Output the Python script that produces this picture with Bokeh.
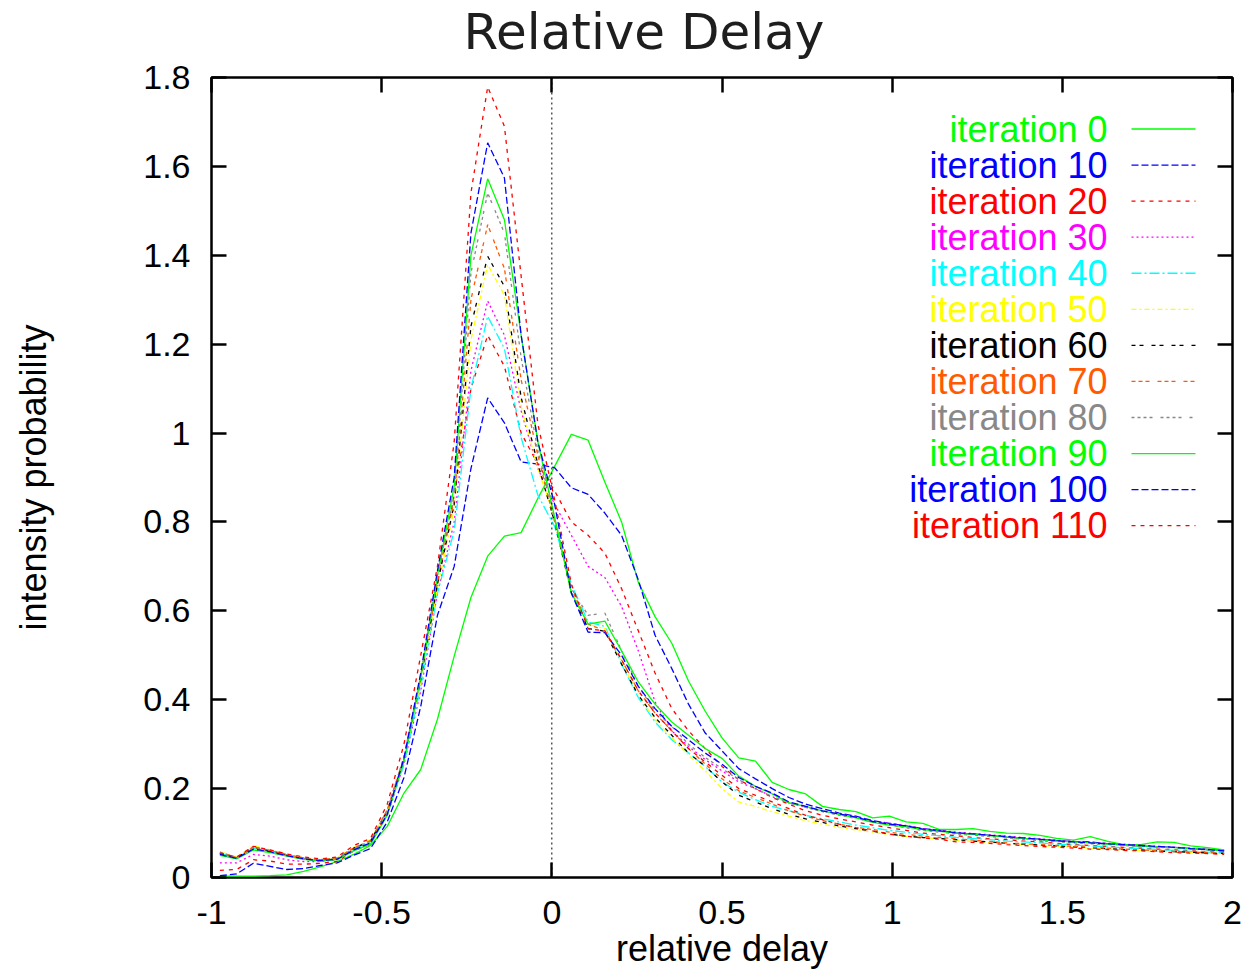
from bokeh.plotting import figure
from bokeh.models import Range1d, FixedTicker, LinearAxis, Span, Title
from bokeh.embed import file_html
from bokeh.resources import INLINE
from bokeh.core.properties import value

# ---------------- data ----------------
relative_delay = [
    -0.9754, -0.9262, -0.8770, -0.8279, -0.7787, -0.7295, -0.6803, -0.6311, -0.5820, -0.5328,
    -0.4836, -0.4344, -0.3852, -0.3361, -0.2869, -0.2377, -0.1885, -0.1393, -0.0902, -0.0410,
    0.0082, 0.0574, 0.1066, 0.1557, 0.2049, 0.2541, 0.3033, 0.3525, 0.4016, 0.4508,
    0.5000, 0.5492, 0.5984, 0.6475, 0.6967, 0.7459, 0.7951, 0.8443, 0.8934, 0.9426,
    0.9918, 1.0410, 1.0902, 1.1393, 1.1885, 1.2377, 1.2869, 1.3361, 1.3852, 1.4344,
    1.4836, 1.5328, 1.5820, 1.6311, 1.6803, 1.7295, 1.7787, 1.8279, 1.8770, 1.9262, 1.9754]

iter_0 = [
    0.003, 0.003, 0.003, 0.004, 0.006, 0.014, 0.024, 0.036, 0.052, 0.072,
    0.115, 0.190, 0.243, 0.356, 0.498, 0.630, 0.723, 0.768, 0.776, 0.853,
    0.925, 0.997, 0.984, 0.890, 0.800, 0.664, 0.587, 0.527, 0.442, 0.374,
    0.314, 0.269, 0.262, 0.214, 0.198, 0.188, 0.160, 0.153, 0.148, 0.134,
    0.138, 0.125, 0.122, 0.108, 0.108, 0.110, 0.104, 0.100, 0.099, 0.095,
    0.088, 0.084, 0.092, 0.082, 0.074, 0.074, 0.080, 0.079, 0.071, 0.067, 0.062]
iter_10 = [
    0.004, 0.008, 0.032, 0.025, 0.018, 0.020, 0.027, 0.033, 0.050, 0.065,
    0.125, 0.225, 0.385, 0.590, 0.700, 0.920, 1.079, 1.023, 0.935, 0.930,
    0.922, 0.877, 0.862, 0.820, 0.770, 0.670, 0.545, 0.470, 0.390, 0.325,
    0.285, 0.245, 0.222, 0.200, 0.180, 0.165, 0.155, 0.145, 0.138, 0.128,
    0.122, 0.116, 0.110, 0.106, 0.100, 0.098, 0.095, 0.091, 0.088, 0.086,
    0.083, 0.081, 0.080, 0.076, 0.073, 0.071, 0.069, 0.068, 0.065, 0.063, 0.060]
iter_20 = [
    0.016, 0.018, 0.040, 0.037, 0.030, 0.030, 0.032, 0.036, 0.060, 0.075,
    0.150, 0.270, 0.450, 0.660, 0.860, 1.100, 1.220, 1.150, 1.000, 0.930,
    0.870, 0.800, 0.770, 0.730, 0.650, 0.555, 0.460, 0.380, 0.330, 0.290,
    0.250, 0.220, 0.200, 0.180, 0.165, 0.150, 0.140, 0.132, 0.125, 0.118,
    0.112, 0.106, 0.100, 0.097, 0.094, 0.090, 0.087, 0.085, 0.082, 0.080,
    0.077, 0.074, 0.072, 0.070, 0.068, 0.066, 0.064, 0.062, 0.060, 0.058, 0.056]
iter_30 = [
    0.033, 0.033, 0.052, 0.048, 0.040, 0.036, 0.036, 0.040, 0.062, 0.078,
    0.140, 0.255, 0.420, 0.640, 0.800, 1.140, 1.297, 1.220, 1.050, 0.920,
    0.840, 0.770, 0.700, 0.675, 0.610, 0.510, 0.395, 0.330, 0.295, 0.265,
    0.240, 0.215, 0.200, 0.182, 0.168, 0.158, 0.150, 0.143, 0.136, 0.127,
    0.122, 0.117, 0.110, 0.106, 0.102, 0.099, 0.096, 0.093, 0.090, 0.087,
    0.084, 0.081, 0.079, 0.077, 0.075, 0.073, 0.070, 0.068, 0.066, 0.064, 0.061]
iter_40 = [
    0.055, 0.044, 0.066, 0.058, 0.050, 0.042, 0.038, 0.042, 0.064, 0.080,
    0.145, 0.255, 0.430, 0.640, 0.780, 1.100, 1.263, 1.190, 0.990, 0.860,
    0.790, 0.660, 0.575, 0.565, 0.480, 0.405, 0.350, 0.310, 0.280, 0.250,
    0.215, 0.192, 0.175, 0.160, 0.150, 0.140, 0.132, 0.125, 0.118, 0.112,
    0.106, 0.102, 0.097, 0.094, 0.090, 0.088, 0.085, 0.082, 0.080, 0.078,
    0.075, 0.073, 0.071, 0.069, 0.067, 0.065, 0.063, 0.061, 0.059, 0.057, 0.055]
iter_50 = [
    0.058, 0.046, 0.072, 0.062, 0.052, 0.044, 0.040, 0.044, 0.068, 0.085,
    0.150, 0.265, 0.440, 0.650, 0.830, 1.210, 1.379, 1.310, 1.060, 0.920,
    0.810, 0.640, 0.570, 0.560, 0.485, 0.410, 0.355, 0.315, 0.275, 0.240,
    0.200, 0.170, 0.160, 0.148, 0.138, 0.128, 0.120, 0.113, 0.107, 0.102,
    0.096, 0.092, 0.090, 0.087, 0.084, 0.081, 0.079, 0.077, 0.074, 0.072,
    0.070, 0.068, 0.066, 0.064, 0.062, 0.061, 0.059, 0.058, 0.056, 0.055, 0.053]
iter_60 = [
    0.054, 0.044, 0.068, 0.060, 0.050, 0.042, 0.038, 0.042, 0.066, 0.082,
    0.150, 0.265, 0.445, 0.660, 0.840, 1.240, 1.398, 1.330, 1.080, 0.930,
    0.800, 0.640, 0.560, 0.554, 0.480, 0.410, 0.360, 0.320, 0.280, 0.250,
    0.215, 0.185, 0.170, 0.155, 0.142, 0.132, 0.124, 0.116, 0.110, 0.104,
    0.098, 0.093, 0.090, 0.088, 0.085, 0.082, 0.080, 0.077, 0.075, 0.073,
    0.071, 0.069, 0.067, 0.065, 0.063, 0.062, 0.060, 0.058, 0.057, 0.055, 0.054]
iter_70 = [
    0.056, 0.045, 0.068, 0.061, 0.052, 0.044, 0.040, 0.044, 0.066, 0.083,
    0.152, 0.270, 0.450, 0.670, 0.850, 1.300, 1.469, 1.370, 1.120, 0.950,
    0.800, 0.650, 0.570, 0.555, 0.490, 0.420, 0.370, 0.330, 0.290, 0.255,
    0.222, 0.195, 0.180, 0.165, 0.150, 0.138, 0.128, 0.120, 0.113, 0.108,
    0.102, 0.097, 0.093, 0.090, 0.087, 0.084, 0.081, 0.078, 0.076, 0.074,
    0.072, 0.070, 0.068, 0.066, 0.064, 0.062, 0.060, 0.059, 0.057, 0.056, 0.054]
iter_80 = [
    0.057, 0.045, 0.069, 0.061, 0.051, 0.043, 0.039, 0.043, 0.065, 0.082,
    0.152, 0.272, 0.455, 0.680, 0.860, 1.360, 1.540, 1.450, 1.170, 0.960,
    0.810, 0.650, 0.590, 0.595, 0.510, 0.430, 0.375, 0.340, 0.300, 0.270,
    0.245, 0.220, 0.200, 0.182, 0.168, 0.158, 0.148, 0.140, 0.133, 0.125,
    0.118, 0.112, 0.106, 0.102, 0.098, 0.095, 0.092, 0.089, 0.086, 0.083,
    0.080, 0.078, 0.076, 0.074, 0.072, 0.070, 0.068, 0.066, 0.064, 0.062, 0.059]
iter_90 = [
    0.050, 0.042, 0.062, 0.056, 0.048, 0.041, 0.037, 0.040, 0.060, 0.075,
    0.140, 0.262, 0.450, 0.680, 0.880, 1.400, 1.572, 1.480, 1.220, 0.980,
    0.810, 0.640, 0.570, 0.577, 0.510, 0.440, 0.390, 0.350, 0.320, 0.290,
    0.268, 0.228, 0.205, 0.188, 0.168, 0.160, 0.150, 0.142, 0.134, 0.124,
    0.118, 0.114, 0.108, 0.104, 0.100, 0.097, 0.094, 0.091, 0.088, 0.085,
    0.082, 0.080, 0.078, 0.075, 0.073, 0.071, 0.069, 0.067, 0.065, 0.063, 0.060]
iter_100 = [
    0.052, 0.043, 0.064, 0.058, 0.049, 0.042, 0.038, 0.041, 0.062, 0.078,
    0.142, 0.268, 0.460, 0.690, 0.900, 1.450, 1.653, 1.574, 1.220, 0.980,
    0.840, 0.640, 0.552, 0.551, 0.500, 0.430, 0.380, 0.340, 0.310, 0.280,
    0.255, 0.225, 0.205, 0.190, 0.170, 0.160, 0.150, 0.143, 0.136, 0.126,
    0.120, 0.116, 0.109, 0.105, 0.101, 0.098, 0.095, 0.092, 0.089, 0.086,
    0.083, 0.080, 0.078, 0.076, 0.074, 0.072, 0.070, 0.068, 0.065, 0.063, 0.060]
iter_110 = [
    0.055, 0.046, 0.070, 0.062, 0.053, 0.046, 0.042, 0.046, 0.072, 0.088,
    0.165, 0.300, 0.500, 0.700, 0.980, 1.540, 1.779, 1.690, 1.353, 1.020,
    0.850, 0.660, 0.560, 0.555, 0.490, 0.420, 0.370, 0.330, 0.290, 0.260,
    0.230, 0.200, 0.185, 0.170, 0.155, 0.140, 0.130, 0.120, 0.112, 0.105,
    0.098, 0.093, 0.089, 0.086, 0.080, 0.079, 0.077, 0.074, 0.072, 0.070,
    0.068, 0.066, 0.064, 0.063, 0.061, 0.060, 0.058, 0.056, 0.055, 0.054, 0.052]

series_values = [iter_0, iter_10, iter_20, iter_30, iter_40, iter_50,
                 iter_60, iter_70, iter_80, iter_90, iter_100, iter_110]
series_labels = ["iteration 0", "iteration 10", "iteration 20", "iteration 30",
                 "iteration 40", "iteration 50", "iteration 60", "iteration 70",
                 "iteration 80", "iteration 90", "iteration 100", "iteration 110"]

x_ticks = [-1, -0.5, 0, 0.5, 1, 1.5, 2]
x_tick_labels = ["-1", "-0.5", "0", "0.5", "1", "1.5", "2"]
y_ticks = [0, 0.2, 0.4, 0.6, 0.8, 1, 1.2, 1.4, 1.6, 1.8]
y_tick_labels = ["0", "0.2", "0.4", "0.6", "0.8", "1", "1.2", "1.4", "1.6", "1.8"]

# ---------------- styles ----------------
series_colors = ["#00ff00", "#0000ff", "#ff0000", "#ff00ff", "#00ffff", "#ffff00",
                 "#000000", "#ff5a00", "#888888", "#00ff00", "#0000ff", "#ff0000"]
series_dashes = ["solid", "7 3", "4 5", "2 3", "10 3 2 3", "5 3 2 3",
                 "4 4 4 8", "4 3 4 3 4 8", "3 3 3 3 3 3 3 8", "solid", "7 3", "4 5"]

FONT = "Liberation Sans"
X0, X1, Y0, Y1 = -1, 2, 0, 1.8
FRAME_L, FRAME_T, FRAME_W, FRAME_H = 211, 77, 1021, 800
W, H = 1243, 972
PAGE_OFF = 1   # canvas origin on the page

p = figure(width=W, height=H, x_range=Range1d(X0, X1), y_range=Range1d(Y0, Y1),
           output_backend="svg", toolbar_location=None,
           min_border_left=FRAME_L, min_border_right=W - FRAME_L - FRAME_W,
           min_border_top=FRAME_T, min_border_bottom=H - FRAME_T - FRAME_H)
p.title = Title(text="Relative Delay", text_font="DejaVu Sans",
                text_font_size="50px", text_font_style="normal", text_color="#1e1e1e",
                align="left", offset=252, standoff=0)
p.background_fill_color = "white"
p.border_fill_color = "white"
p.outline_line_color = "black"
p.outline_line_width = 2.5
p.xgrid.visible = False
p.ygrid.visible = False


def style_axis(ax, ticks, labels, show_labels, label_px="34px"):
    ax.ticker = FixedTicker(ticks=ticks, minor_ticks=[])
    ax.major_label_overrides = {t: (l if show_labels else " ") for t, l in zip(ticks, labels)}
    ax.major_tick_in = 15
    ax.major_tick_out = 0
    ax.major_tick_line_width = 2.5
    ax.major_tick_line_color = "black"
    ax.minor_tick_line_color = None
    ax.axis_line_color = None
    ax.major_label_text_font = FONT
    ax.major_label_text_font_size = label_px
    ax.major_label_text_color = "black"
    ax.axis_label_text_font = FONT
    ax.axis_label_text_font_size = "36px"
    ax.axis_label_text_font_style = "normal"
    ax.axis_label_text_color = "black"


style_axis(p.xaxis[0], x_ticks, x_tick_labels, True)
style_axis(p.yaxis[0], y_ticks, y_tick_labels, True)
p.xaxis[0].axis_label = "relative delay"
p.yaxis[0].axis_label = "intensity probability"
p.xaxis[0].major_label_standoff = 23
p.xaxis[0].axis_label_standoff = 1
p.yaxis[0].major_label_standoff = 21
p.yaxis[0].axis_label_standoff = 86

# mirrored tick marks on top/right (blank labels); the top one spaces the title upward
top_axis = LinearAxis(major_label_standoff=0)
style_axis(top_axis, x_ticks, x_tick_labels, False, label_px="12px")
p.add_layout(top_axis, "above")
right_axis = LinearAxis(major_label_standoff=0)
style_axis(right_axis, y_ticks, y_tick_labels, False, label_px="1px")
p.add_layout(right_axis, "right")

# dotted zero line
p.add_layout(Span(location=0, dimension="height", line_color="black",
                  line_dash="2 3", line_width=1))

# curves
for vals, col, dash in zip(series_values, series_colors, series_dashes):
    p.line(relative_delay, vals, line_color=col, line_dash=dash, line_width=1.3)


# gnuplot-style key: label right-aligned, sample line to its right (page pixels -> data)
def px_to_x(px):
    return X0 + (px - PAGE_OFF - FRAME_L) / FRAME_W * (X1 - X0)


def py_to_y(py):
    return Y1 - (py - PAGE_OFF - FRAME_T) / FRAME_H * (Y1 - Y0)


key_text_x = px_to_x(1108)
key_line_x = [px_to_x(1132), px_to_x(1196)]
for i, (lbl, col, dash) in enumerate(zip(series_labels, series_colors, series_dashes)):
    ky = py_to_y(129.5 + 36.06 * i)
    p.text(x=[key_text_x], y=[ky], text=[lbl], text_color=col,
           text_font=value(FONT), text_font_size="36px",
           text_align="right", text_baseline="middle")
    p.line(key_line_x, [ky, ky], line_color=col, line_dash=dash, line_width=1.3)

open("out.html", "w").write(file_html(p, INLINE))
